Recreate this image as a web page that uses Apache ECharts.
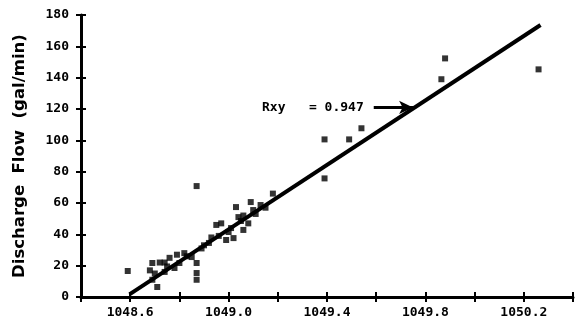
<!DOCTYPE html>
<html>
<head>
<meta charset="utf-8">
<script src="https://cdn.jsdelivr.net/npm/echarts@6/dist/echarts.min.js"></script>
<style>html,body{margin:0;padding:0;background:#fff}#c{width:579px;height:327px}</style>
</head>
<body>
<div id="c"></div>
<script>
// Observations: headwater elevation (ft) vs discharge flow (gal/min)
const elevation = [1048.59, 1048.68, 1048.69, 1048.69, 1048.70, 1048.71, 1048.72, 1048.74, 1048.74, 1048.76,
  1048.78, 1048.79, 1048.80, 1048.82, 1048.85, 1048.87, 1048.87, 1048.87, 1048.87, 1048.89,
  1048.92, 1048.93, 1048.95, 1048.97, 1048.99, 1049.00, 1049.02, 1049.03, 1049.04, 1049.06,
  1049.06, 1049.08, 1049.09, 1049.10, 1049.13, 1049.18, 1049.39, 1049.39, 1049.49, 1049.54,
  1049.865, 1049.88, 1050.26,
  1048.75, 1048.83, 1048.90, 1048.96, 1049.01, 1049.05, 1049.11, 1049.15];
const flow = [16.6, 17, 21.7, 11, 15, 6.4, 22, 22, 16, 25,
  18.5, 27, 21.7, 28, 25.5, 70.8, 21.7, 15.3, 11, 31,
  34.5, 38, 46, 47, 36.4, 41.5, 37.6, 57.4, 51, 52,
  42.8, 47, 60.6, 55.5, 58.7, 66, 100.6, 75.7, 100.6, 107.7,
  139, 152.3, 145.3,
  19.5, 26, 33, 39, 44, 48.5, 53, 57];
// Fitted regression line end points
const fitX = [1048.597, 1050.268];
const fitY = [1.7, 173.6];
const rxyText = 'Rxy   = 0.947';
const arrowX = [1049.59, 1049.75];
const arrowY = [121, 121];
const yTicks = [0, 20, 40, 60, 80, 100, 120, 140, 160, 180];
const xLabelValues = ['1048.6', '1049.0', '1049.4', '1049.8', '1050.2'];

const font = 'DejaVu Sans Mono';
const chart = echarts.init(document.getElementById('c'), null, {renderer: 'canvas'});
const pts = elevation.map((x, i) => [x, flow[i]]);
const fit = fitX.map((x, i) => [x, fitY[i]]);

chart.setOption({
  animation: false,
  backgroundColor: '#fff',
  grid: {left: 81, right: 6, top: 15, bottom: 30, containLabel: false},
  xAxis: [{
    type: 'value', min: 1048.4, max: 1050.4, interval: 0.2,
    axisLine: {onZero: false, lineStyle: {color: '#000', width: 3}},
    axisTick: {show: true, length: 5, lineStyle: {color: '#000', width: 2}},
    splitLine: {show: false},
    axisLabel: {
      margin: 9, color: '#000', fontFamily: font, fontWeight: 'bold', fontSize: 13,
      showMinLabel: true, showMaxLabel: true,
      formatter: function (v) {
        const s = (Math.round(v * 10) / 10).toFixed(1);
        return xLabelValues.indexOf(s) >= 0 ? s : '';
      }
    }
  }, {
    type: 'value', min: 1048.4, max: 1050.4, interval: 0.2, position: 'bottom',
    axisLine: {show: false},
    axisTick: {show: true, inside: true, length: 5, lineStyle: {color: '#000', width: 2}},
    axisLabel: {show: false}, splitLine: {show: false}
  }],
  yAxis: [{
    type: 'value', min: 0, max: 180, interval: 20,
    name: 'Discharge  Flow  (gal/min)', nameLocation: 'middle', nameGap: 53,
    nameTextStyle: {color: '#000', fontFamily: 'DejaVu Sans', fontWeight: 'bold', fontSize: 16.5},
    axisLine: {onZero: false, lineStyle: {color: '#000', width: 3}},
    axisTick: {show: true, length: 5, lineStyle: {color: '#000', width: 2}},
    splitLine: {show: false},
    axisLabel: {margin: 12, color: '#000', fontFamily: font, fontWeight: 'bold', fontSize: 13,
      formatter: function (v) { return yTicks.indexOf(v) >= 0 ? String(v) : ''; }}
  }, {
    type: 'value', min: 0, max: 180, interval: 20, position: 'left',
    axisLine: {show: false},
    axisTick: {show: true, inside: true, length: 5, lineStyle: {color: '#000', width: 2}},
    axisLabel: {show: false}, splitLine: {show: false}
  }],
  series: [{
    type: 'scatter', data: pts, symbol: 'rect', symbolSize: 6,
    itemStyle: {color: '#000'}
  }, {
    type: 'line', data: fit, symbol: 'none',
    lineStyle: {color: '#000', width: 4},
    markLine: {
      silent: true, symbol: ['none', 'arrow'], symbolSize: [10, 14],
      lineStyle: {color: '#000', width: 3, type: 'solid'},
      label: {show: true, position: 'start', distance: 10, formatter: rxyText,
        color: '#000', fontFamily: font, fontWeight: 'bold', fontSize: 13},
      data: [[{coord: [arrowX[0], arrowY[0]]}, {coord: [arrowX[1], arrowY[1]]}]]
    }
  }]
});
</script>
</body>
</html>
